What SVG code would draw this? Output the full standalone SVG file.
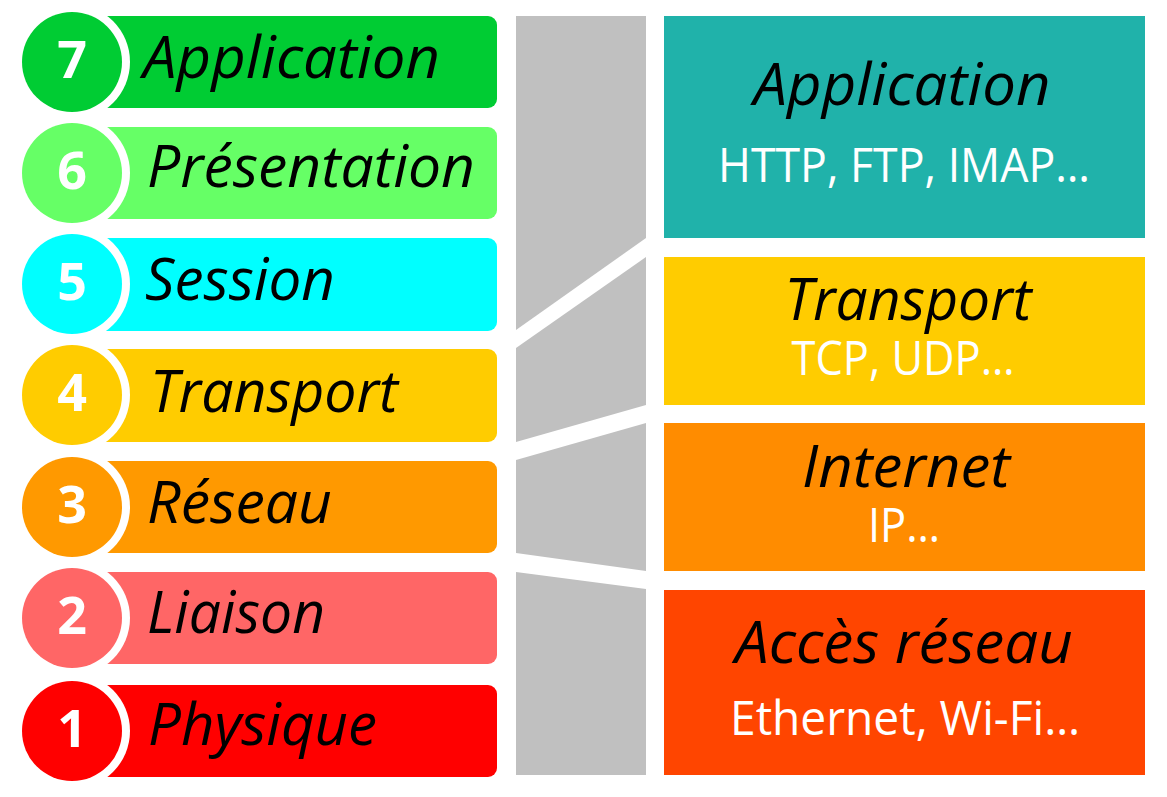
<svg xmlns="http://www.w3.org/2000/svg" width="1167" height="797" viewBox="0 0 1167 797">
  <style>
    .bar { stroke: none; }
    .halo { fill: #ffffff; }
    .num { font-family: "Open Sans", "Noto Sans", sans-serif; font-weight: bold; font-size: 52px; fill: #ffffff; text-anchor: middle; }
    .lbl { font-family: "Open Sans", "Noto Sans", sans-serif; font-style: italic; font-size: 58px; fill: #000000; }
    .ttl { font-family: "Open Sans", "Noto Sans", sans-serif; font-style: italic; font-size: 58px; fill: #000000; text-anchor: middle; }
    .sub { font-family: "Open Sans", "Noto Sans", sans-serif; font-size: 47px; fill: #ffffff; text-anchor: middle; }
    .link { fill: #c0c0c0; }
  </style>
  <rect width="1167" height="797" fill="#ffffff"/>

  <!-- OSI layers (left column) -->
  <g id="osi-7">
    <rect class="bar" x="72" y="16" width="425" height="92" rx="9" fill="#00cc33"/>
    <circle class="halo" cx="72" cy="62" r="58"/>
    <circle cx="72" cy="62" r="50" fill="#00cc33"/>
    <text class="num" x="72" y="78">7</text>
    <text class="lbl" x="143" y="78" textLength="297" lengthAdjust="spacingAndGlyphs">Application</text>
  </g>
  <g id="osi-6">
    <rect class="bar" x="72" y="127" width="425" height="92" rx="9" fill="#66ff66"/>
    <circle class="halo" cx="72" cy="173" r="58"/>
    <circle cx="72" cy="173" r="50" fill="#66ff66"/>
    <text class="num" x="72" y="189">6</text>
    <text class="lbl" x="147" y="187" textLength="328" lengthAdjust="spacingAndGlyphs">Présentation</text>
  </g>
  <g id="osi-5">
    <rect class="bar" x="72" y="238" width="425" height="93" rx="9" fill="#00ffff"/>
    <circle class="halo" cx="72" cy="284" r="58"/>
    <circle cx="72" cy="284" r="50" fill="#00ffff"/>
    <text class="num" x="72" y="300">5</text>
    <text class="lbl" x="145" y="300" textLength="190" lengthAdjust="spacingAndGlyphs">Session</text>
  </g>
  <g id="osi-4">
    <rect class="bar" x="72" y="349" width="425" height="93" rx="9" fill="#ffcc00"/>
    <circle class="halo" cx="72" cy="395" r="58"/>
    <circle cx="72" cy="395" r="50" fill="#ffcc00"/>
    <text class="num" x="72" y="411">4</text>
    <text class="lbl" x="150" y="412" textLength="248" lengthAdjust="spacingAndGlyphs">Transport</text>
  </g>
  <g id="osi-3">
    <rect class="bar" x="72" y="461" width="425" height="92" rx="9" fill="#ff9900"/>
    <circle class="halo" cx="72" cy="507" r="58"/>
    <circle cx="72" cy="507" r="50" fill="#ff9900"/>
    <text class="num" x="72" y="523">3</text>
    <text class="lbl" x="147" y="523" textLength="185" lengthAdjust="spacingAndGlyphs">Réseau</text>
  </g>
  <g id="osi-2">
    <rect class="bar" x="72" y="572" width="425" height="92" rx="9" fill="#ff6666"/>
    <circle class="halo" cx="72" cy="618" r="58"/>
    <circle cx="72" cy="618" r="50" fill="#ff6666"/>
    <text class="num" x="72" y="634">2</text>
    <text class="lbl" x="147" y="633" textLength="178" lengthAdjust="spacingAndGlyphs">Liaison</text>
  </g>
  <g id="osi-1">
    <rect class="bar" x="72" y="685" width="425" height="92" rx="9" fill="#ff0000"/>
    <circle class="halo" cx="72" cy="731" r="58"/>
    <circle cx="72" cy="731" r="50" fill="#ff0000"/>
    <text class="num" x="72" y="747">1</text>
    <text class="lbl" x="148" y="745" textLength="229" lengthAdjust="spacingAndGlyphs">Physique</text>
  </g>

  <!-- grey bands mapping OSI layers to TCP/IP layers -->
  <g id="connectors">
    <polygon class="link" points="516,16 646,16 646,238 516,330"/>
    <polygon class="link" points="516,348 646,257 646,405 516,442"/>
    <polygon class="link" points="516,460 646,423 646,571 516,553"/>
    <polygon class="link" points="516,572 646,589 646,775 516,775"/>
  </g>

  <!-- TCP/IP layers (right column) -->
  <g id="tcpip-application">
    <rect x="664" y="16" width="481" height="222" fill="#20b2aa"/>
    <text class="ttl" x="902" y="105" textLength="297" lengthAdjust="spacingAndGlyphs">Application</text>
    <text class="sub" x="904" y="182" textLength="372" lengthAdjust="spacingAndGlyphs">HTTP, FTP, IMAP…</text>
  </g>
  <g id="tcpip-transport">
    <rect x="664" y="257" width="481" height="148" fill="#ffcc00"/>
    <text class="ttl" x="908" y="320" textLength="247" lengthAdjust="spacingAndGlyphs">Transport</text>
    <text class="sub" x="903" y="375" textLength="223" lengthAdjust="spacingAndGlyphs">TCP, UDP…</text>
  </g>
  <g id="tcpip-internet">
    <rect x="664" y="423" width="481" height="148" fill="#ff8c00"/>
    <text class="ttl" x="906" y="487" textLength="208" lengthAdjust="spacingAndGlyphs">Internet</text>
    <text class="sub" x="904" y="542" textLength="72" lengthAdjust="spacingAndGlyphs">IP…</text>
  </g>
  <g id="tcpip-acces">
    <rect x="664" y="590" width="481" height="185" fill="#ff4500"/>
    <text class="ttl" x="904" y="663" textLength="338" lengthAdjust="spacingAndGlyphs">Accès réseau</text>
    <text class="sub" x="905" y="735" textLength="350" lengthAdjust="spacingAndGlyphs">Ethernet, Wi-Fi…</text>
  </g>
</svg>
